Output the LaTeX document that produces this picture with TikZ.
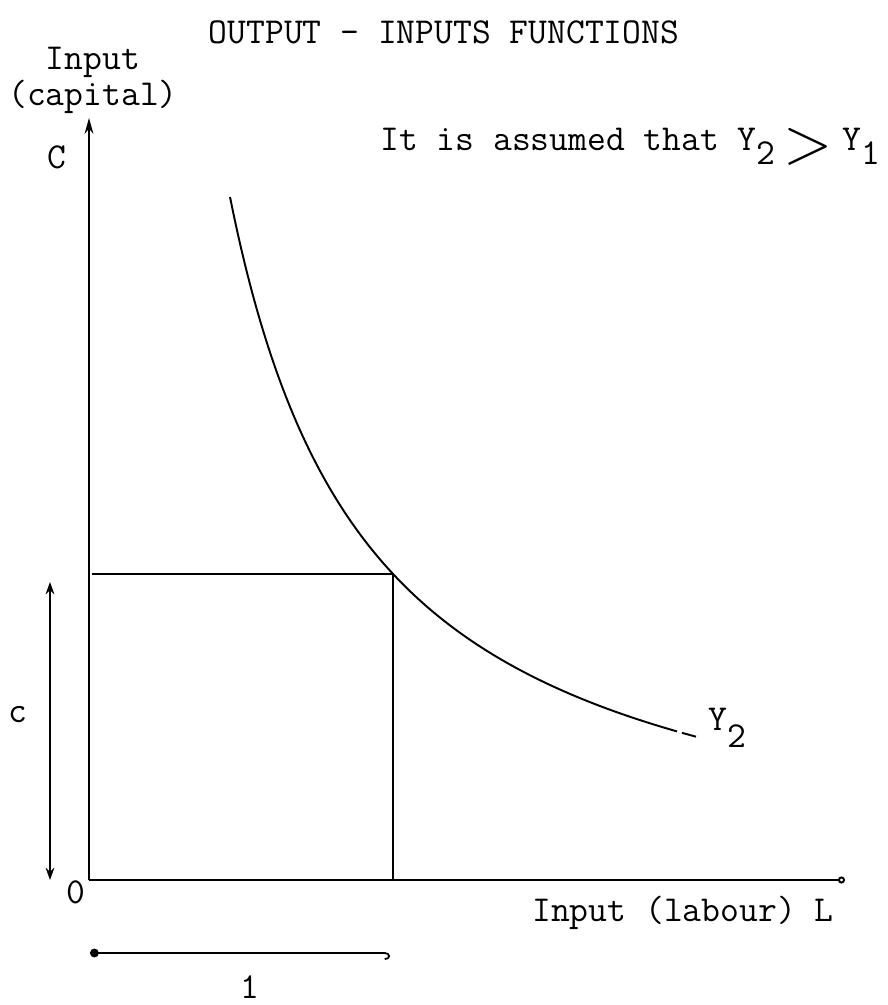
\documentclass[tikz,border=0pt]{standalone}
\usetikzlibrary{arrows.meta}
\begin{document}
\begin{tikzpicture}[x=0.02cm,y=-0.02cm,
  txt/.style={font=\fontsize{20.8}{24}\selectfont\ttfamily, inner sep=0pt},
  axis/.style={line width=1.1pt},
  guide/.style={line width=0.9pt},
  dim/.style={line width=1pt}]
\useasboundingbox (0,0) rectangle (888,1005);
% key points
\coordinate (O) at (89,880);
\coordinate (Ytop) at (89,118);
\coordinate (Xend) at (845,880);
\coordinate (P) at (393,574);
\coordinate (Pl) at (92,574);
\coordinate (Pb) at (393,880);
\coordinate (ca) at (50,582);
\coordinate (cb) at (50,880);
\coordinate (la) at (90,953);
\coordinate (lb) at (390,953);
% texts
\node[txt, anchor=base] (title) at (444,43) {OUTPUT - INPUTS FUNCTIONS};
\node[txt, anchor=base] (inp) at (93,69) {Input};
\node[txt, anchor=base] (cap) at (93,105) {(capital)};
\node[txt, anchor=base] (C) at (57,168) {C};
\node[txt, anchor=base west] (assume) at (380,150) {It is assumed that Y\raisebox{-8.5pt}{2}};
\node[txt] (gt) at (808,147) {\resizebox*{28pt}{21pt}{$>$}};
\node[txt, anchor=base west] (Y1) at (842,150) {Y\raisebox{-8pt}{1}};
\node[txt, anchor=base] (c) at (18,722) {c};
\node[txt, anchor=base] (zero) at (76,903) {0};
\node[txt, anchor=base west] (lab) at (532,921) {Input (labour) L};
\node[txt, anchor=base] (one) at (250,998) {1};
\node[txt, anchor=base west] (Y2) at (708,730) {Y\raisebox{-10pt}{2}};
% axes
\draw[axis, -{Stealth[length=9pt,width=5pt]}] (O) -- (Ytop);
\draw[axis, -{Circle[length=4pt,open]}] (O) -- (Xend);
% guide lines
\draw[guide] (Pl) -- (P) -- (Pb);
% dimension arrows
\draw[dim, {Stealth[length=7pt,width=5pt,open]}-{Stealth[length=7pt,width=5pt,open]}] (ca) -- (cb);
\draw[dim, {Circle[length=5pt]}-{Hooks[length=3pt,width=8pt,right]}] (la) -- (lb);
% isoquant Y2
\draw[line width=1.1pt] plot[domain=141:588, samples=120, smooth] ({89+\x},{880-(991.3/\x*100-20)});
\draw[line width=1.1pt] ({89+593},{880-(991.3/593*100-20)}) -- ({89+607},{880-(991.3/607*100-20)});
\end{tikzpicture}
\end{document}
